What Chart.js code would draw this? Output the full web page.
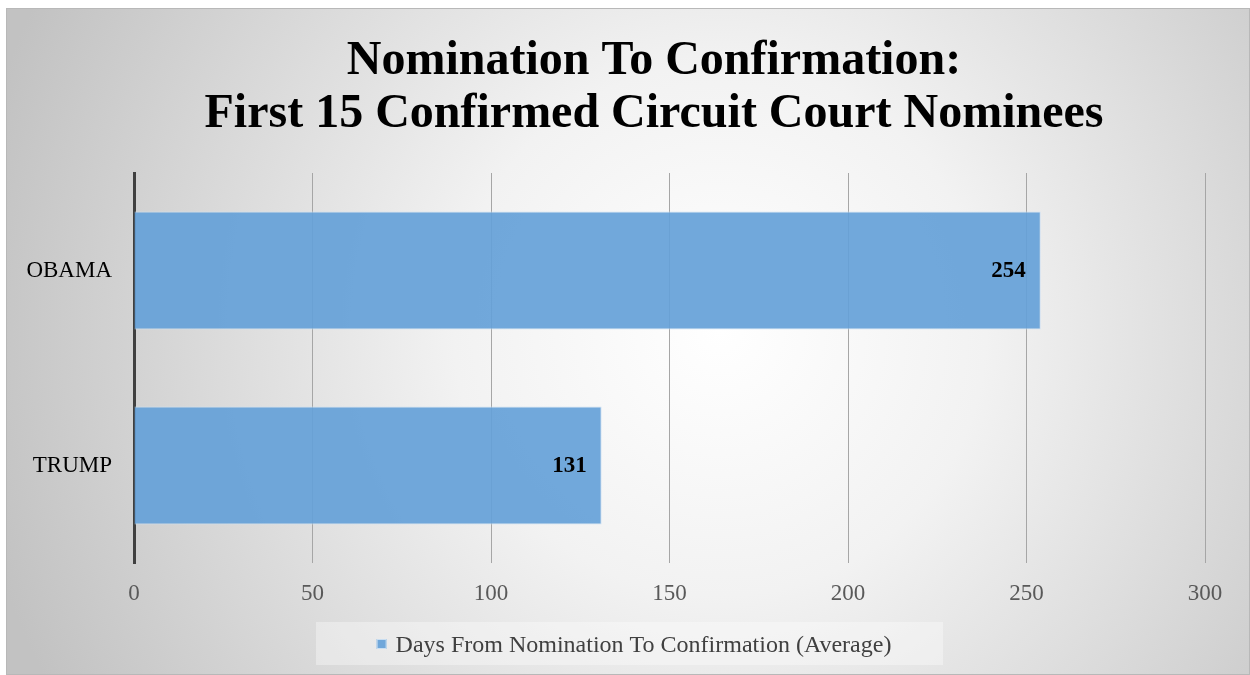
<!DOCTYPE html>
<html>
<head>
<meta charset="utf-8">
<script src="https://cdn.jsdelivr.net/npm/chart.js@4/dist/chart.umd.min.js"></script>
<style>
html,body{margin:0;padding:0;background:#ffffff;}
#wrap{width:1250px;height:675px;position:relative;}
</style>
</head>
<body>
<div id="wrap"><canvas id="c" width="1250" height="675"></canvas></div>
<script>
const categories = ['OBAMA', 'TRUMP'];
const seriesLabel = 'Days From Nomination To Confirmation (Average)';
const seriesValues = [254, 131];
const titleLines = ['Nomination To Confirmation:', 'First 15 Confirmed Circuit Court Nominees'];
const xTicks = [0, 50, 100, 150, 200, 250, 300];

const FONT = "'Liberation Serif', 'Times New Roman', serif";
const BAR_COLOR = 'rgba(101,161,216,0.92)';

const bgPlugin = {
  id: 'bg',
  beforeDraw(chart) {
    const ctx = chart.ctx;
    ctx.save();
    const g = ctx.createRadialGradient(720, 330, 0, 720, 330, 760);
    g.addColorStop(0, '#ffffff');
    g.addColorStop(0.35, '#f2f2f2');
    g.addColorStop(1, '#c2c2c2');
    ctx.fillStyle = g;
    ctx.fillRect(6, 8, 1244, 667);
    ctx.strokeStyle = '#b8b8b8';
    ctx.lineWidth = 1;
    ctx.strokeRect(6.5, 8.5, 1243, 666);
    // legend backdrop
    ctx.fillStyle = 'rgba(255,255,255,0.35)';
    ctx.fillRect(316, 622, 627, 43);
    ctx.restore();
  },
  afterDraw(chart) {
    const ctx = chart.ctx;
    ctx.save();
    // title
    ctx.fillStyle = '#000000';
    ctx.font = "bold 48px " + FONT;
    ctx.textAlign = 'center';
    ctx.textBaseline = 'alphabetic';
    ctx.fillText(titleLines[0], 654, 74);
    ctx.fillText(titleLines[1], 654, 127);
    // legend
    ctx.font = "24px " + FONT;
    const tw = ctx.measureText(seriesLabel).width;
    const total = 10 + 9 + tw;
    const x0 = 634 - total / 2;
    ctx.fillStyle = BAR_COLOR;
    ctx.fillRect(x0, 639, 10, 10);
    ctx.strokeStyle = 'rgba(205,224,242,0.95)';
    ctx.lineWidth = 1;
    ctx.strokeRect(x0 + 0.5, 639.5, 9, 9);
    ctx.fillStyle = '#404040';
    ctx.textAlign = 'left';
    ctx.fillText(seriesLabel, x0 + 19, 652);
    ctx.restore();
  }
};

const labelPlugin = {
  id: 'vlabels',
  afterDatasetsDraw(chart) {
    const ctx = chart.ctx;
    const meta = chart.getDatasetMeta(0);
    ctx.save();
    ctx.font = "bold 23px " + FONT;
    ctx.fillStyle = '#000000';
    ctx.textAlign = 'right';
    ctx.textBaseline = 'middle';
    meta.data.forEach((bar, i) => {
      ctx.fillText(String(seriesValues[i]), bar.x - 15, bar.y + 1);
    });
    ctx.restore();
  }
};

new Chart(document.getElementById('c'), {
  type: 'bar',
  data: {
    labels: categories,
    datasets: [{
      label: seriesLabel,
      data: seriesValues,
      backgroundColor: BAR_COLOR,
      borderColor: 'rgba(205,224,242,0.95)',
      borderWidth: 1,
      borderSkipped: 'start',
      barPercentage: 0.605,
      categoryPercentage: 1.0
    }]
  },
  options: {
    indexAxis: 'y',
    responsive: false,
    animation: false,
    devicePixelRatio: 1,
    layout: { padding: { top: 173, left: 0, right: 45, bottom: 0 } },
    plugins: {
      title: { display: false },
      legend: { display: false },
      tooltip: { enabled: false }
    },
    scales: {
      x: {
        min: 0,
        max: 300,
        afterBuildTicks(scale) { scale.ticks = xTicks.map(v => ({ value: v })); },
        afterFit(scale) { scale.height = 112; },
        ticks: {
          color: '#595959',
          font: { family: FONT, size: 23 },
          padding: 17
        },
        grid: { color: '#a6a6a6', lineWidth: 1, drawTicks: false },
        border: { display: false }
      },
      y: {
        afterFit(scale) { scale.width = 134; },
        ticks: {
          color: '#000000',
          font: { family: FONT, size: 23 },
          padding: 22
        },
        grid: { display: false, drawTicks: false },
        border: { display: true, color: '#404040', width: 3 }
      }
    }
  },
  plugins: [bgPlugin, labelPlugin]
});
</script>
</body>
</html>
